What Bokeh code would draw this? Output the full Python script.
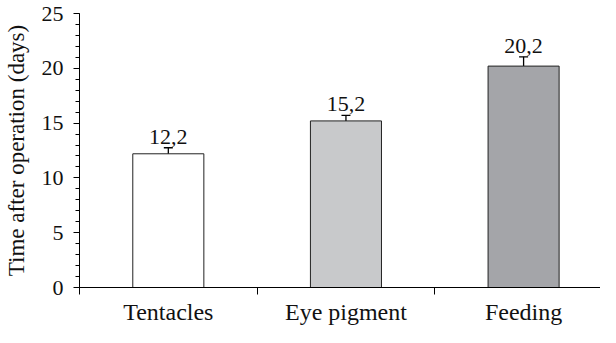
from bokeh.plotting import figure
from bokeh.models import Range1d, FixedTicker, ColumnDataSource, Whisker, TeeHead, LinearAxis
from bokeh.core.properties import value
from bokeh.embed import file_html
from bokeh.resources import INLINE

categories = ["Tentacles", "Eye pigment", "Feeding"]
means = [12.2, 15.2, 20.2]
errors = [0.55, 0.5, 0.85]
colors = ["#ffffff", "#c8c9cb", "#a4a5a9"]
y_ticks = [0, 5, 10, 15, 20, 25]

FONT = "Liberation Serif"

xs = [i + 0.5 for i in range(len(categories))]
src = ColumnDataSource(dict(
    x=xs,
    top=means,
    color=colors,
    upper=[m + e for m, e in zip(means, errors)],
    lower=[m - e for m, e in zip(means, errors)],
    label=[("%.1f" % m).replace(".", ",") for m in means],
))

p = figure(width=600, height=327, output_backend="svg", toolbar_location=None,
           x_range=Range1d(0, 525 / 179), y_range=Range1d(0, 25),
           min_border_left=75, min_border_right=0, min_border_top=13, min_border_bottom=0,
           x_axis_type=None, y_axis_type=None)
p.outline_line_color = None
p.xgrid.visible = False
p.ygrid.visible = False
p.background_fill_color = "white"

p.vbar(x="x", top="top", bottom=0, width=0.4, source=src, fill_color="color",
       line_color="#222222", line_width=1)

w = Whisker(base="x", upper="upper", lower="lower", source=src,
            line_color="black", line_width=1.3,
            upper_head=TeeHead(size=9, line_color="black", line_width=1.3),
            lower_head=TeeHead(size=9, line_color="black", line_width=1.3))
p.add_layout(w)

p.text(x="x", y="upper", text="label", source=src, y_offset=-11,
       text_align="center", text_baseline="alphabetic",
       text_font=value(FONT), text_font_size="22px", text_color="#111111")

xaxis = LinearAxis(ticker=FixedTicker(ticks=xs, minor_ticks=list(range(len(categories) + 1))))
xaxis.major_label_overrides = {x: c for x, c in zip(xs, categories)}
xaxis.major_tick_line_color = None
xaxis.major_tick_out = 0
xaxis.major_tick_in = 0
xaxis.minor_tick_out = 7
xaxis.minor_tick_in = 0
xaxis.minor_tick_line_color = "black"
xaxis.major_label_standoff = 4
xaxis.major_label_text_font = FONT
xaxis.major_label_text_font_size = "24px"
xaxis.major_label_text_color = "#111111"
xaxis.axis_line_color = "black"
p.add_layout(xaxis, "below")

yaxis = LinearAxis(ticker=FixedTicker(ticks=y_ticks, minor_ticks=list(range(0, 26))))
yaxis.major_tick_out = 6
yaxis.major_tick_in = 0
yaxis.minor_tick_out = 4
yaxis.minor_tick_in = 0
yaxis.major_tick_line_color = "black"
yaxis.minor_tick_line_color = "black"
yaxis.axis_line_color = "black"
yaxis.major_label_standoff = 10
yaxis.major_label_text_font = FONT
yaxis.major_label_text_font_size = "22px"
yaxis.major_label_text_color = "#111111"
yaxis.axis_label = "Time after operation (days)"
yaxis.axis_label_text_font = FONT
yaxis.axis_label_text_font_style = "normal"
yaxis.axis_label_text_font_size = "23px"
yaxis.axis_label_text_color = "#111111"
yaxis.axis_label_standoff = 10
p.add_layout(yaxis, "left")

open("out.html", "w").write(file_html(p, INLINE))
